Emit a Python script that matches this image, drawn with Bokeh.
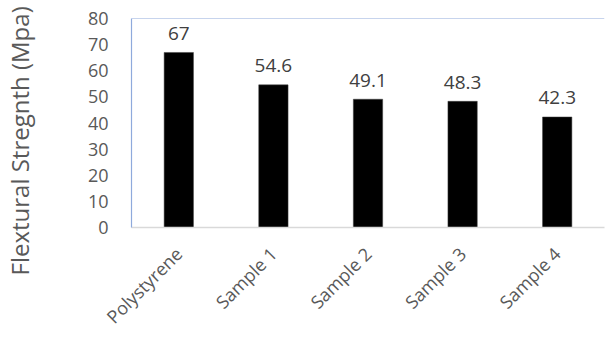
import math

from bokeh.core.properties import value
from bokeh.embed import file_html
from bokeh.models import ColumnDataSource, FixedTicker, Span, Title
from bokeh.plotting import figure
from bokeh.resources import INLINE

# Flexural strength per material (MPa)
materials = ["Polystyrene", "Sample 1", "Sample 2", "Sample 3", "Sample 4"]
strength = [67, 54.6, 49.1, 48.3, 42.3]
strength_labels = ["67", "54.6", "49.1", "48.3", "42.3"]
y_ticks = [0, 10, 20, 30, 40, 50, 60, 70, 80]
y_title = "Flextural Stregnth (Mpa)"

FONT = "Open Sans"
TEXT_GREY = "#595959"
EDGE_BLUE = "#8FAADC"

source = ColumnDataSource(dict(material=materials, strength=strength, label=strength_labels))

p = figure(
    x_range=materials,
    y_range=(0, 80),
    width=605,
    height=339,
    output_backend="svg",
    toolbar_location=None,
    min_border_left=131,
    min_border_right=1,
    min_border_top=18,
    min_border_bottom=111,
)
p.x_range.range_padding = 0

p.vbar(x="material", top="strength", width=0.31, source=source,
       fill_color="black", line_color="#404040", line_width=0.5)

p.text(x="material", y="strength", text="label", source=source,
       text_font=value(FONT), text_font_size="19px", text_color="#404040",
       text_align="center", text_baseline="alphabetic", y_offset=-19)

# frame: blue top edge, no outline box
p.outline_line_color = None
p.add_layout(Span(location=80, dimension="width", line_color=EDGE_BLUE, line_width=1.2))
p.grid.visible = False

# y axis
ya = p.yaxis[0]
ya.ticker = FixedTicker(ticks=y_ticks)
ya.major_label_text_font = FONT
ya.major_label_text_font_size = "18px"
ya.major_label_text_color = TEXT_GREY
ya.major_tick_line_color = None
ya.minor_tick_line_color = None
ya.major_tick_out = 0
ya.major_tick_in = 0
ya.major_label_standoff = 23
ya.axis_line_color = EDGE_BLUE
ya.axis_line_width = 1.2

# x axis
xa = p.xaxis[0]
xa.major_label_orientation = math.pi / 4
xa.major_label_text_font = FONT
xa.major_label_text_font_size = "18px"
xa.major_label_text_color = TEXT_GREY
xa.major_tick_line_color = None
xa.major_tick_out = 0
xa.major_tick_in = 0
xa.major_label_standoff = 23
xa.axis_line_color = "#D9D9D9"
xa.axis_line_width = 1.5

# gap between the tick labels and the vertical title
p.add_layout(Title(text="\u00a0", text_font_size="1px", standoff=44), "left")
# vertical title, starting a little below the frame bottom
p.add_layout(Title(text=y_title, text_font=FONT, text_font_size="24px",
                   text_font_style="normal", text_color=TEXT_GREY,
                   align="left", vertical_align="top", offset=-48, standoff=0), "left")

open("out.html", "w").write(file_html(p, INLINE))
